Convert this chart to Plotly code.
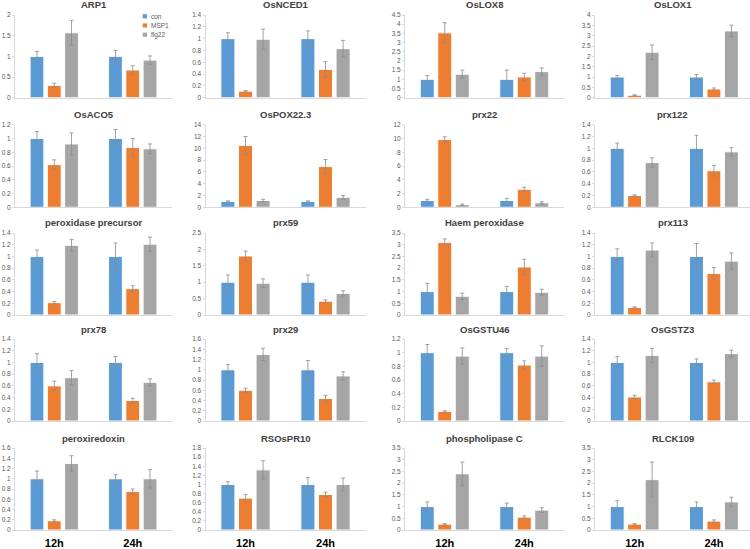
import plotly.graph_objects as go

genes = ["ARP1", "OsNCED1", "OsLOX8", "OsLOX1",
         "OsACO5", "OsPOX22.3", "prx22", "prx122",
         "peroxidase precursor", "prx59", "Haem peroxidase", "prx113",
         "prx78", "prx29", "OsGSTU46", "OsGSTZ3",
         "peroxiredoxin", "RSOsPR10", "phospholipase C", "RLCK109"]
timepoints = ["12h", "24h"]
series_names = ["con", "MSP1", "flg22"]

con_12h = [1.0] * 20
msp1_12h = [0.30, 0.11, 3.53, 0.12, 0.62, 10.5, 9.85, 0.20, 0.21, 1.80, 3.10, 0.13,
            0.60, 0.60, 0.14, 0.41, 0.18, 0.70, 0.25, 0.25]
flg22_12h = [1.57, 0.99, 1.28, 2.20, 0.92, 1.15, 0.38, 0.76, 1.19, 0.97, 0.80, 1.11,
             0.74, 1.30, 0.95, 1.12, 1.30, 1.32, 2.40, 2.15]
con_24h = [1.0] * 20
msp1_24h = [0.67, 0.48, 1.13, 0.42, 0.87, 6.90, 2.62, 0.62, 0.45, 0.42, 2.05, 0.71,
            0.35, 0.44, 0.82, 0.67, 0.75, 0.78, 0.55, 0.38]
flg22_24h = [0.91, 0.83, 1.42, 3.23, 0.85, 1.70, 0.65, 0.94, 1.21, 0.66, 0.97, 0.92,
             0.66, 0.88, 0.95, 1.15, 1.00, 1.00, 0.85, 1.20]

con_12h_err = [0.12, 0.10, 0.20, 0.08, 0.10, 0.10, 0.15, 0.09, 0.11, 0.22, 0.35, 0.13,
               0.15, 0.10, 0.12, 0.10, 0.15, 0.06, 0.20, 0.25]
msp1_12h_err = [0.05, 0.01, 0.55, 0.02, 0.07, 1.5, 0.40, 0.01, 0.02, 0.15, 0.15, 0.01,
                0.08, 0.04, 0.01, 0.03, 0.02, 0.08, 0.03, 0.03]
flg22_12h_err = [0.30, 0.17, 0.22, 0.35, 0.16, 0.20, 0.10, 0.08, 0.10, 0.13, 0.13, 0.12,
                 0.12, 0.12, 0.12, 0.12, 0.15, 0.20, 0.50, 0.75]
con_24h_err = [0.14, 0.13, 0.50, 0.12, 0.13, 0.10, 0.30, 0.22, 0.23, 0.22, 0.22, 0.22,
               0.10, 0.18, 0.06, 0.06, 0.08, 0.15, 0.15, 0.20]
msp1_24h_err = [0.10, 0.13, 0.20, 0.05, 0.13, 1.2, 0.30, 0.09, 0.05, 0.04, 0.33, 0.10,
                0.04, 0.06, 0.06, 0.03, 0.05, 0.05, 0.05, 0.05]
flg22_24h_err = [0.10, 0.14, 0.20, 0.28, 0.07, 0.30, 0.15, 0.07, 0.12, 0.08, 0.13, 0.14,
                 0.06, 0.08, 0.15, 0.06, 0.18, 0.14, 0.10, 0.20]

y_max = [2, 1.4, 4.5, 4, 1.2, 14, 12, 1.4, 1.4, 2.5, 3.5, 1.4,
         1.4, 1.6, 1.2, 1.4, 1.6, 1.8, 3.5, 3.5]
y_step = [0.5, 0.2, 0.5, 0.5, 0.2, 2, 2, 0.2, 0.2, 0.5, 0.5, 0.2,
          0.2, 0.2, 0.2, 0.2, 0.2, 0.2, 0.5, 0.5]

colors = ["#5B9BD5", "#ED7D31", "#A5A5A5"]

W, H = 750, 549
col_px = [(15, 172), (205.5, 365.5), (405, 564), (595, 750)]
col_range_end = [1.5, 1.5, 1.5, 1.455]
row_px = [(15, 97.7), (124.7, 207.3), (233, 315), (339, 421), (448, 530)]

FONT = "Arial, Liberation Sans, sans-serif"
fig = go.Figure()
annotations = []
shapes = []

for i, g in enumerate(genes):
    r, c = divmod(i, 4)
    ax = "" if i == 0 else str(i + 1)
    vals = [(con_12h[i], con_24h[i], con_12h_err[i], con_24h_err[i]),
            (msp1_12h[i], msp1_24h[i], msp1_12h_err[i], msp1_24h_err[i]),
            (flg22_12h[i], flg22_24h[i], flg22_12h_err[i], flg22_24h_err[i])]
    for k, (a, b, ea, eb) in enumerate(vals):
        fig.add_trace(go.Bar(
            x=timepoints, y=[a, b], name=series_names[k],
            marker=dict(color=colors[k], line=dict(color="white", width=1)),
            error_y=dict(type="data", array=[ea, eb], color="#8c8c8c",
                         thickness=0.8, width=2),
            showlegend=False,
            xaxis="x" + ax, yaxis="y" + ax))
    x0, x1 = col_px[c]
    yt, yb = row_px[r]
    fig.update_layout(**{
        "xaxis" + ax: dict(domain=[x0 / W, x1 / W], anchor="y" + ax,
                           range=[-0.5, col_range_end[c]], automargin=False,
                           showline=True, linecolor="#d9d9d9", linewidth=1,
                           ticks="", showgrid=False,
                           showticklabels=(r == 4), ticklabelstandoff=3,
                           tickfont=dict(size=11, color="#000000", family=FONT),
                           tickprefix="<b>", ticksuffix="</b>"),
        "yaxis" + ax: dict(domain=[1 - yb / H, 1 - yt / H], anchor="x" + ax,
                           range=[0, y_max[i]], dtick=y_step[i], tick0=0,
                           automargin=False,
                           showline=True, linecolor="#d9d9d9", linewidth=1,
                           ticks="outside", ticklen=2, tickcolor="#d9d9d9",
                           showgrid=False, zeroline=False,
                           tickfont=dict(size=6.5, color="#595959", family=FONT)),
    })
    annotations.append(dict(
        text="<b>" + g + "</b>", xref="paper", yref="paper",
        x=(x0 + x1) / 2 / W, y=1 - (yt - 10) / H,
        showarrow=False, xanchor="center", yanchor="middle",
        font=dict(size=9.5, color="#404040", family=FONT)))

# legend (drawn in the first panel)
for k, name in enumerate(series_names):
    cy = 16.3 + 9.2 * k
    shapes.append(dict(type="rect", xref="paper", yref="paper",
                       x0=142.7 / W, x1=147 / W,
                       y0=1 - (cy + 2.1) / H, y1=1 - (cy - 2.1) / H,
                       fillcolor=colors[k], line=dict(width=0)))
    annotations.append(dict(text=name, xref="paper", yref="paper",
                            x=148.5 / W, y=1 - cy / H, showarrow=False,
                            xanchor="left", yanchor="middle",
                            font=dict(size=6.5, color="#595959", family=FONT)))

fig.update_layout(
    width=W, height=H,
    margin=dict(l=0, r=0, t=0, b=0, autoexpand=False),
    paper_bgcolor="white", plot_bgcolor="white",
    barmode="group", bargap=0.34, bargroupgap=0.2,
    annotations=annotations, shapes=shapes,
    showlegend=False,
    font=dict(family=FONT),
)

fig.write_html("out.html", config={"displayModeBar": False},
               post_script="document.body.style.margin='0';document.body.style.padding='0';")
